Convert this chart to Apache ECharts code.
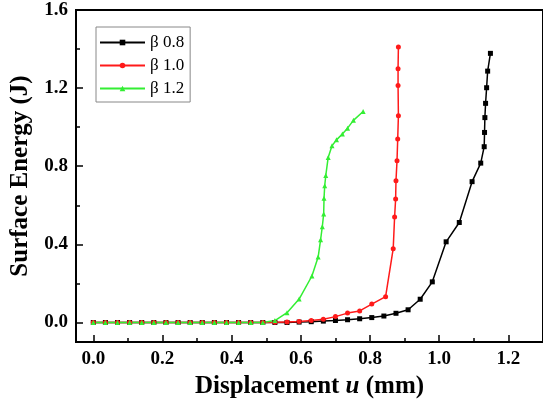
<!DOCTYPE html>
<html>
<head>
<meta charset="utf-8">
<script src="https://cdn.jsdelivr.net/npm/echarts@6/dist/echarts.min.js"></script>
<style>
  html, body { margin: 0; padding: 0; background: #fff; }
  #chart { width: 543px; height: 404px; }
</style>
</head>
<body>
<div id="chart"></div>
<script>
// beta 0.8 (black squares)
const b08X = [0, 0.035, 0.07, 0.105, 0.14, 0.175, 0.21, 0.245, 0.28, 0.315, 0.35, 0.385, 0.42, 0.455, 0.49,
  0.525, 0.56, 0.595, 0.63, 0.665, 0.70, 0.735, 0.77, 0.805, 0.84, 0.875, 0.91, 0.945, 0.98, 1.02, 1.058,
  1.095, 1.12, 1.13, 1.131, 1.132, 1.134, 1.137, 1.14, 1.148];
const b08Y = [0, 0, 0, 0, 0, 0, 0, 0, 0, 0, 0, 0, 0, 0, 0,
  0, 0, 0.002, 0.004, 0.007, 0.010, 0.014, 0.019, 0.025, 0.033, 0.047, 0.065, 0.119, 0.208, 0.413, 0.512,
  0.721, 0.816, 0.900, 0.973, 1.049, 1.122, 1.202, 1.287, 1.378];

// beta 1.0 (red circles)
const b10X = [0, 0.035, 0.07, 0.105, 0.14, 0.175, 0.21, 0.245, 0.28, 0.315, 0.35, 0.385, 0.42, 0.455, 0.49,
  0.525, 0.56, 0.595, 0.63, 0.665, 0.70, 0.735, 0.77, 0.805, 0.845, 0.867, 0.871, 0.874, 0.875, 0.878,
  0.880, 0.882, 0.881, 0.881, 0.882];
const b10Y = [0, 0, 0, 0, 0, 0, 0, 0, 0, 0, 0, 0, 0, 0, 0,
  0.001, 0.003, 0.005, 0.010, 0.017, 0.030, 0.048, 0.059, 0.094, 0.132, 0.378, 0.540, 0.632, 0.726, 0.828,
  0.939, 1.058, 1.214, 1.299, 1.410];

// beta 1.2 (green triangles)
const b12X = [0, 0.035, 0.07, 0.105, 0.14, 0.175, 0.21, 0.245, 0.28, 0.315, 0.35, 0.385, 0.42, 0.455, 0.49,
  0.525, 0.56, 0.595, 0.632, 0.650, 0.657, 0.662, 0.666, 0.667, 0.669, 0.672, 0.679, 0.690, 0.703, 0.720,
  0.735, 0.752, 0.780];
const b12Y = [0, 0, 0, 0, 0, 0, 0, 0, 0, 0, 0, 0, 0, 0, 0,
  0.010, 0.050, 0.120, 0.238, 0.335, 0.423, 0.490, 0.556, 0.636, 0.700, 0.752, 0.845, 0.905, 0.935, 0.965,
  0.995, 1.035, 1.080];

const xTicks = [0, 0.2, 0.4, 0.6, 0.8, 1.0, 1.2];
const xMinor = [0.1, 0.3, 0.5, 0.7, 0.9, 1.1];
const yTicks = [0, 0.4, 0.8, 1.2, 1.6];
const yMinor = [0.2, 0.6, 1.0, 1.4];

const serif = 'Liberation Serif';
const zip = (xs, ys) => xs.map((x, i) => [x, ys[i]]);

let myChart = echarts.init(document.getElementById('chart'));

function makeSeries(name, xs, ys, color, symbol) {
  return {
    name: name,
    type: 'line',
    data: zip(xs, ys),
    symbol: symbol,
    symbolSize: 5,
    lineStyle: { color: color, width: 1.5 },
    itemStyle: { color: color },
    xAxisIndex: 0,
    yAxisIndex: 0
  };
}

myChart.setOption({
  animation: false,
  backgroundColor: '#fff',
  grid: {
    left: 76,
    right: -6,
    top: 10,
    bottom: 61,
    show: true,
    borderColor: '#000',
    borderWidth: 2
  },
  legend: {
    orient: 'vertical',
    left: 96,
    top: 27,
    padding: [7, 6, 5, 3],
    itemWidth: 45,
    itemHeight: 7,
    itemGap: 6,
    borderColor: '#888',
    borderWidth: 1,
    backgroundColor: '#fff',
    textStyle: { fontFamily: serif, fontSize: 17, color: '#000' },
    data: ['β 0.8', 'β 1.0', 'β 1.2']
  },
  xAxis: [
    {
      type: 'value',
      min: -0.05,
      max: 1.3,
      position: 'bottom',
      axisLine: { onZero: false, lineStyle: { color: '#000', width: 2 } },
      axisTick: { inside: true, length: 7, customValues: xTicks, lineStyle: { color: '#000', width: 1.5 } },
      axisLabel: {
        customValues: xTicks,
        margin: 8,
        formatter: v => Number(v).toFixed(1),
        fontFamily: serif,
        fontWeight: 'bold',
        fontSize: 19,
        color: '#000'
      },
      splitLine: { show: false },
      name: '{b|Displacement }{i|u}{b| (mm)}',
      nameLocation: 'middle',
      nameGap: 32,
      nameTextStyle: {
        rich: {
          b: { fontFamily: serif, fontWeight: 'bold', fontSize: 25, color: '#000' },
          i: { fontFamily: serif, fontWeight: 'bold', fontStyle: 'italic', fontSize: 25, color: '#000' }
        }
      }
    },
    {
      type: 'value',
      min: -0.05,
      max: 1.3,
      position: 'bottom',
      axisLine: { show: false, onZero: false },
      axisTick: { inside: true, length: 4, customValues: xMinor, lineStyle: { color: '#000', width: 1.5 } },
      axisLabel: { show: false },
      splitLine: { show: false }
    }
  ],
  yAxis: [
    {
      type: 'value',
      min: -0.1,
      max: 1.6,
      position: 'left',
      axisLine: { show: true, onZero: false, lineStyle: { color: '#000', width: 2 } },
      axisTick: { show: true, inside: true, length: 7, customValues: yTicks, lineStyle: { color: '#000', width: 1.5 } },
      axisLabel: {
        customValues: yTicks,
        margin: 8,
        formatter: v => Number(v).toFixed(1),
        fontFamily: serif,
        fontWeight: 'bold',
        fontSize: 19,
        color: '#000'
      },
      splitLine: { show: false },
      name: 'Surface Energy (J)',
      nameLocation: 'middle',
      nameGap: 40,
      nameTextStyle: { fontFamily: serif, fontWeight: 'bold', fontSize: 25, color: '#000' }
    },
    {
      type: 'value',
      min: -0.1,
      max: 1.6,
      position: 'left',
      axisLine: { show: false, onZero: false },
      axisTick: { show: true, inside: true, length: 4, customValues: yMinor, lineStyle: { color: '#000', width: 1.5 } },
      axisLabel: { show: false },
      splitLine: { show: false }
    }
  ],
  series: [
    makeSeries('β 0.8', b08X, b08Y, '#000000', 'rect'),
    makeSeries('β 1.0', b10X, b10Y, '#ff1a1a', 'circle'),
    makeSeries('β 1.2', b12X, b12Y, '#33ee33', 'triangle')
  ]
});
</script>
</body>
</html>
